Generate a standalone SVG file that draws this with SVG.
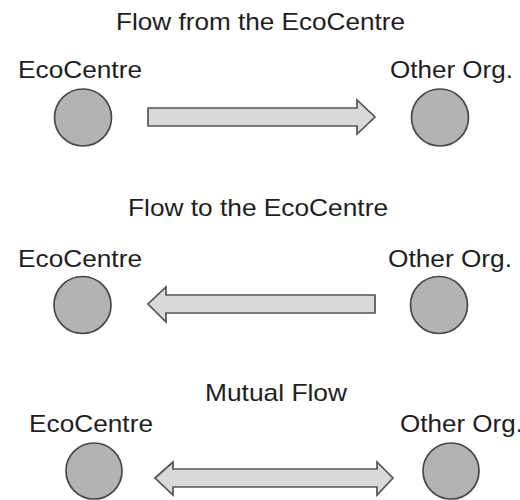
<svg xmlns="http://www.w3.org/2000/svg" width="520" height="500" viewBox="0 0 520 500">
  <style>
    .title { font-family: "Liberation Sans", Arial, sans-serif; font-size: 24px; fill: #1e1e1e; }
    .label { font-family: "Liberation Sans", Arial, sans-serif; font-size: 23px; fill: #1e1e1e; }
    .org { fill: #b3b3b3; stroke: #474747; stroke-width: 1.7; }
    .flow { fill: #d9d9d9; stroke: #555555; stroke-width: 1.7; stroke-linejoin: miter; }
  </style>
  <rect width="520" height="500" fill="#ffffff"/>

  <!-- Row 1: flow from the EcoCentre -->
  <text class="title" x="116" y="30" textLength="289" lengthAdjust="spacingAndGlyphs">Flow from the EcoCentre</text>
  <g id="eco1">
    <text class="label" x="18" y="78" textLength="124" lengthAdjust="spacingAndGlyphs">EcoCentre</text>
    <circle class="org" cx="83" cy="117.5" r="28.5"/>
  </g>
  <g id="other1">
    <text class="label" x="390" y="78" textLength="123" lengthAdjust="spacingAndGlyphs">Other Org.</text>
    <circle class="org" cx="440" cy="117.5" r="28.5"/>
  </g>

  <!-- Row 2: flow to the EcoCentre -->
  <text class="title" x="128" y="216" textLength="260" lengthAdjust="spacingAndGlyphs">Flow to the EcoCentre</text>
  <g id="eco2">
    <text class="label" x="18" y="267" textLength="124" lengthAdjust="spacingAndGlyphs">EcoCentre</text>
    <circle class="org" cx="82.5" cy="305" r="28.5"/>
  </g>
  <g id="other2">
    <text class="label" x="388" y="267" textLength="124" lengthAdjust="spacingAndGlyphs">Other Org.</text>
    <circle class="org" cx="439" cy="305" r="28.5"/>
  </g>

  <!-- Row 3: mutual flow -->
  <text class="title" x="205" y="401" textLength="142" lengthAdjust="spacingAndGlyphs">Mutual Flow</text>
  <g id="eco3">
    <text class="label" x="29" y="432" textLength="124" lengthAdjust="spacingAndGlyphs">EcoCentre</text>
    <circle class="org" cx="94" cy="471" r="28"/>
  </g>
  <g id="other3">
    <text class="label" x="400" y="432" textLength="123" lengthAdjust="spacingAndGlyphs">Other Org.</text>
    <circle class="org" cx="451" cy="471" r="28"/>
  </g>

  <!-- Block arrows -->
  <g id="connectors">
    <polygon class="flow" points="148,108 357,108 357,100 375,117 357,134 357,126 148,126"/>
    <polygon class="flow" points="375,295 166,295 166,287 148,304 166,322 166,313 375,313"/>
    <polygon class="flow" points="155,478 173,462 173,469 377,469 377,462 393,478 377,495 377,487 173,487 173,495"/>
  </g>
</svg>
